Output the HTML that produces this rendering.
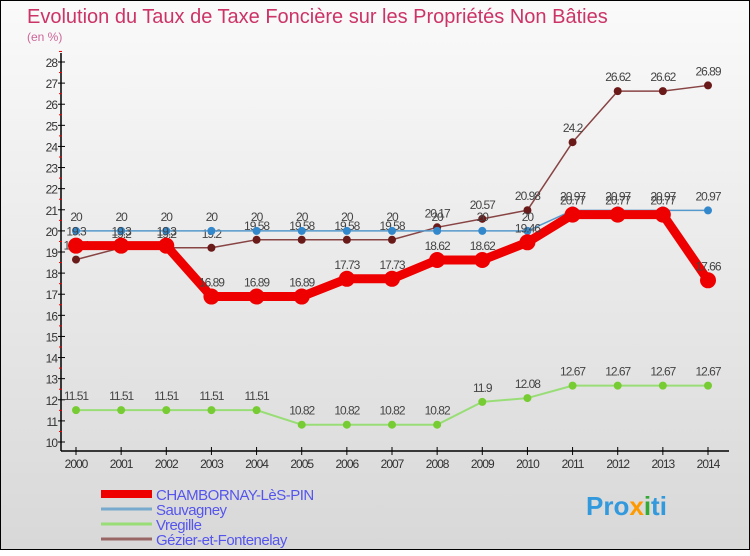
<!DOCTYPE html>
<html><head><meta charset="utf-8"><style>
body{margin:0;width:750px;height:550px;overflow:hidden;font-family:"Liberation Sans",sans-serif}
#c{position:absolute;left:0;top:0;width:748px;height:548px;border:1px solid #000;background:linear-gradient(#fafafa,#d8d8d8)}
</style></head><body>
<div id="c">
<svg id="s" width="750" height="550" xmlns="http://www.w3.org/2000/svg">
<text x="26" y="22" font-size="20" fill="#cc3366">Evolution du Taux de Taxe Foncière sur les Propriétés Non Bâties</text>
<text x="26" y="40" font-size="12" fill="#cc6699">(en %)</text>
<g id="axes"></g><g id="series"></g><g id="legend"></g>
<text x="585" y="514" font-size="26" font-weight="bold" fill="#3399dd">Pro<tspan fill="#ff9900">x</tspan><tspan fill="#33aa33">i</tspan>ti</text>
</svg></div>
<script>
const years=["2000","2001","2002","2003","2004","2005","2006","2007","2008","2009","2010","2011","2012","2013","2014"];
const yTicks=[10,11,12,13,14,15,16,17,18,19,20,21,22,23,24,25,26,27,28];
const chambornay=[19.3,19.3,19.3,16.89,16.89,16.89,17.73,17.73,18.62,18.62,19.46,20.77,20.77,20.77,17.66];
const sauvagney=[20,20,20,20,20,20,20,20,20,20,20,20.97,20.97,20.97,20.97];
const vregille=[11.51,11.51,11.51,11.51,11.51,10.82,10.82,10.82,10.82,11.9,12.08,12.67,12.67,12.67,12.67];
const gezier=[18.64,19.2,19.2,19.2,19.58,19.58,19.58,19.58,20.17,20.57,20.98,24.2,26.62,26.62,26.89];
const NS="http://www.w3.org/2000/svg";
const X=i=>75+i*(707-75)/(years.length-1);
const Y=v=>441-(v-10)*(441-61)/18;
function mk(p,t,a){const e=document.createElementNS(NS,t);for(const k in a)e.setAttribute(k,a[k]);p.appendChild(e);return e;}
const ax=document.getElementById('axes');
let e=mk(ax,'line',{x1:60,y1:52,x2:60,y2:450,stroke:'#000','stroke-width':1.5});


e=mk(ax,'line',{x1:60,y1:450,x2:728,y2:450,stroke:'#000','stroke-width':1.5});


yTicks.forEach(v=>{mk(ax,'line',{x1:57,y1:Y(v),x2:64,y2:Y(v),stroke:'#000'});
mk(ax,'line',{x1:58,y1:Y(v+0.5),x2:61,y2:Y(v+0.5),stroke:'#e00'});
const t=mk(ax,'text',{x:56,y:Y(v)+5,'font-size':12,fill:'#333','text-anchor':'end','letter-spacing':'-1'});t.textContent=v;

});
years.forEach((y,i)=>{mk(ax,'line',{x1:X(i),y1:446,x2:X(i),y2:454,stroke:'#000'});
const t=mk(ax,'text',{x:X(i),y:467,'font-size':12,fill:'#333','text-anchor':'middle','letter-spacing':'-1'});t.textContent=y;

});
const sg=document.getElementById('series');
function series(name,data,color,w,r,dot){
const g=mk(sg,'g',{});


mk(g,'polyline',{points:data.map((v,i)=>X(i)+','+Y(v)).join(' '),fill:'none',stroke:color,'stroke-width':w,'stroke-linejoin':'round'});
data.forEach((v,i)=>{const c=mk(g,'circle',{cx:X(i),cy:Y(v),r:r,fill:dot});


const t=mk(g,'text',{x:X(i),y:Y(v)-10,'font-size':12,fill:'#444','text-anchor':'middle','letter-spacing':'-1'});t.textContent=v;

});}
series('gezier',gezier,'#884444',1.5,4,'#6b1a1a');
series('vregille',vregille,'#99dd77',2,4,'#77cc33');
series('sauvagney',sauvagney,'#5599cc',1.5,4,'#3388cc');
series('chambornay',chambornay,'#ee0000',9,8,'#ee0000');
const lg=document.getElementById('legend');
[['CHAMBORNAY-LèS-PIN','#ee0000',8],['Sauvagney','#77aacc',3],['Vregille','#99dd77',3],['Gézier-et-Fontenelay','#996666',3]].forEach((d,i)=>{
const y=493+i*15;
const l=mk(lg,'line',{x1:100,y1:y,x2:151,y2:y,stroke:d[1],'stroke-width':d[2]});


const t=mk(lg,'text',{x:155,y:y+6,'font-size':15,fill:'#5555ee','letter-spacing':'-0.5'});t.textContent=d[0];

});
</script>
</body></html>
